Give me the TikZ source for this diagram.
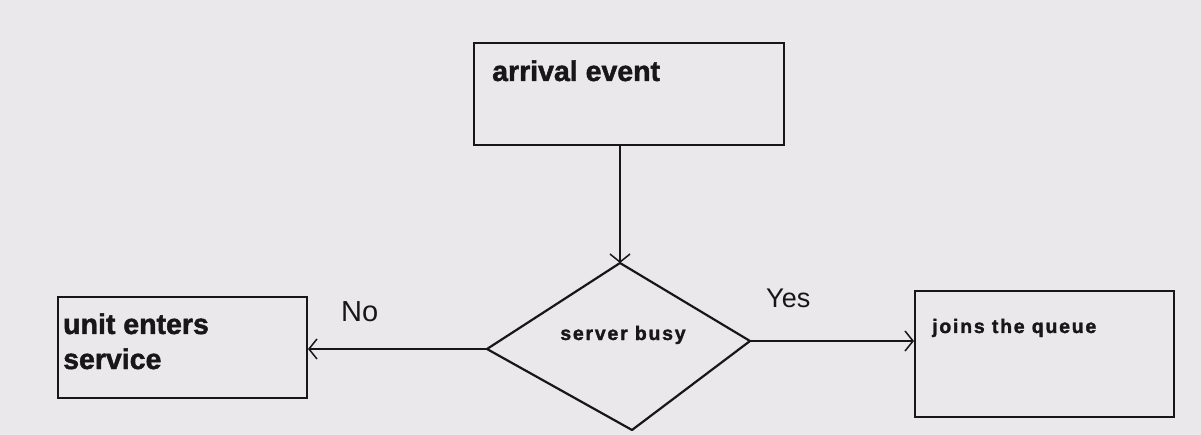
\documentclass[tikz,border=0pt]{standalone}
\usepackage{fontspec}
\setmainfont{Liberation Sans}
\newfontfamily\heavyfont{Liberation Sans}[BoldFeatures={FakeBold=1.6}]
\usetikzlibrary{arrows.meta,calc}
\definecolor{paper}{RGB}{235,232,236}
\definecolor{ink}{RGB}{24,22,24}
\tikzset{
  box/.style={draw=ink, line width=2pt, fill=paper, inner sep=0pt, rectangle},
  boxtext/.style={anchor=base west, inner sep=0pt, text=ink,
    font=\heavyfont\fontsize{28.5}{35}\selectfont\bfseries},
  smalltext/.style={anchor=base west, inner sep=0pt, text=ink,
    font=\heavyfont\fontsize{19.5}{23}\selectfont\bfseries\addfontfeature{LetterSpace=9}},
  answer/.style={anchor=base west, inner sep=0pt, text=ink},
  flow/.style={draw=ink, line width=1.6pt, -{Straight Barb[length=8pt,width=20pt,line width=1.5pt]}},
  edge/.style={draw=ink, line width=2.2pt, line join=round}
}
\begin{document}
\begin{tikzpicture}[x=1pt, y=-1pt]
  % page
  \fill[paper] (0,0) rectangle (1201,435);
  \useasboundingbox (0,0) rectangle (1201,435);

  % process boxes
  \node[box, minimum width=310pt, minimum height=102pt] (arr) at (629,94) {};
  \node[box, minimum width=249pt, minimum height=101pt] (ent) at (182.5,347.5) {};
  \node[box, minimum width=259pt, minimum height=126pt] (que) at (1044.5,354) {};

  % decision diamond corners
  \coordinate (dtop) at (620,263);
  \coordinate (dright) at (750,341);
  \coordinate (dbottom) at (632,430);
  \coordinate (dleft) at (487,349);
  \draw[edge] (dtop) -- (dright) -- (dbottom) -- (dleft) -- cycle;

  % labels
  \node[boxtext] (arrtxt) at (492,81) {arrival event};
  \node[boxtext] (enttxt1) at (63,334) {unit enters};
  \node[boxtext] (enttxt2) at (63,369) {service};
  \node[smalltext] (quetxt) at (932,333) {joins the queue};
  \node[smalltext, anchor=base] (dectxt) at (623,340) {server busy};
  \node[answer, font=\fontsize{29}{34}\selectfont] (no) at (341,322) {No};
  \node[answer, font=\fontsize{27}{32}\selectfont] (yes) at (766,308) {Yes};

  % connectors
  \draw[flow] (dtop |- arr.south) -- (dtop);
  \draw[flow] (dleft) -- (dleft -| ent.east);
  \draw[flow] (dright) -- (dright -| que.west);
\end{tikzpicture}
\end{document}
